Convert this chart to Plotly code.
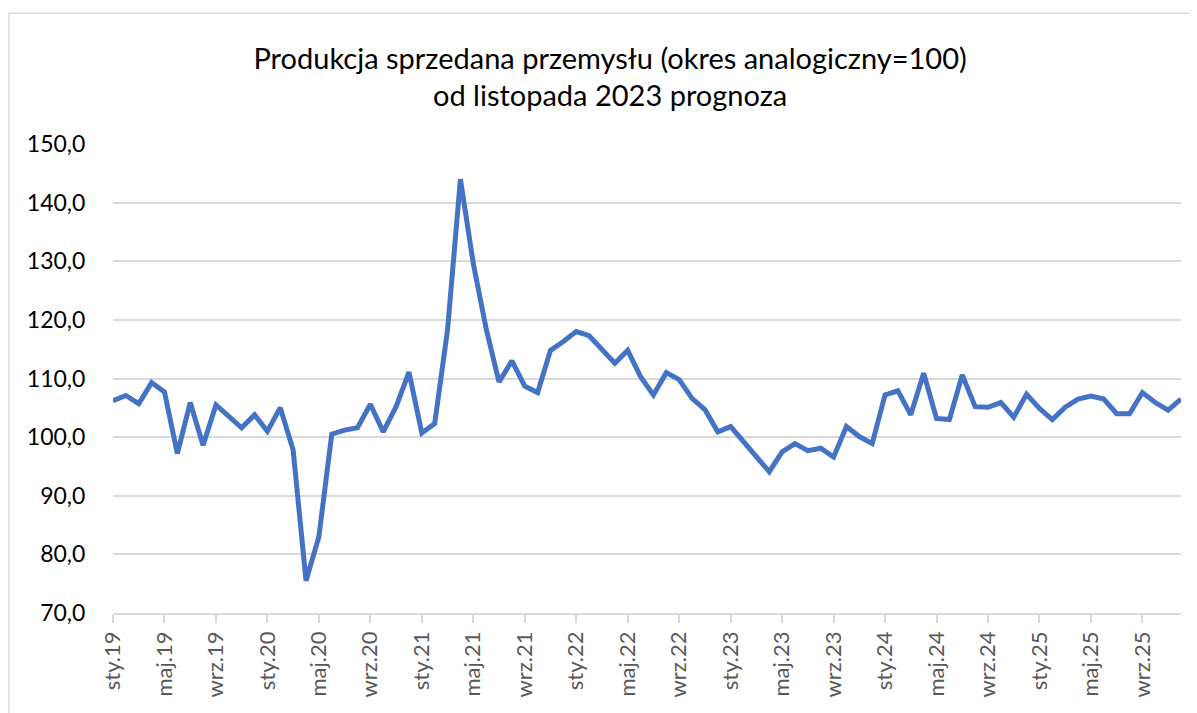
import plotly.graph_objects as go

month_abbr = ["sty", "lut", "mar", "kwi", "maj", "cze", "lip", "sie", "wrz", "paź", "lis", "gru"]
years = ["19", "20", "21", "22", "23", "24", "25"]
categories = [f"{m}.{y}" for y in years for m in month_abbr]

values = [
    106.2, 107.1, 105.7, 109.3, 107.7, 97.2, 105.9, 98.6, 105.5, 103.6, 101.6, 103.8,
    101.0, 105.0, 97.8, 75.5, 83.0, 100.5, 101.2, 101.6, 105.6, 100.9, 105.2, 111.1,
    100.7, 102.3, 118.3, 144.0, 129.6, 118.5, 109.4, 113.0, 108.7, 107.6, 114.8, 116.3,
    118.0, 117.3, 115.1, 112.6, 114.8, 110.3, 107.2, 111.0, 109.8, 106.6, 104.7, 100.9,
    101.8, 99.2, 96.9, 94.1, 97.5, 98.9, 97.7, 98.1, 96.6, 101.8, 100.1, 98.9,
    107.2, 107.9, 103.8, 110.9, 103.2, 103.0, 110.6, 105.2, 105.1, 105.9, 103.4, 107.3,
    104.9, 103.0, 105.1, 106.5, 107.0, 106.5, 104.0, 104.0, 107.6, 105.9, 104.6, 106.5,
]

y_ticks = [70, 80, 90, 100, 110, 120, 130, 140, 150]
y_tick_labels = ["70,0", "80,0", "90,0", "100,0", "110,0", "120,0", "130,0", "140,0", "150,0"]

x_idx = list(range(len(categories)))
tick_idx = x_idx[::4]
tick_text = [categories[i] for i in tick_idx]

fig = go.Figure()
fig.add_trace(go.Scatter(
    x=x_idx, y=values, mode="lines",
    line=dict(color="#4472C4", width=5),
    hoverinfo="skip",
))

fig.update_layout(
    width=1197, height=713,
    margin=dict(l=105, r=24, t=136, b=108),
    paper_bgcolor="white", plot_bgcolor="white",
    showlegend=False,
    font=dict(family="Lato, Noto Sans, sans-serif", color="#000000"),
    title=dict(
        text="Produkcja sprzedana przemysłu (okres analogiczny=100)<br>od listopada 2023 prognoza",
        x=0.503, xanchor="center", xref="container",
        y=0.915, yanchor="middle", yref="container",
        font=dict(size=29, family="Lato, Noto Sans, sans-serif", color="#000000"),
    ),
    xaxis=dict(
        range=[0, len(categories) - 1],
        tickmode="array", tickvals=tick_idx, ticktext=tick_text,
        tickangle=-90,
        ticks="outside", ticklen=8, tickcolor="#d9d9d9", tickwidth=1.5,
        showline=True, linecolor="#d9d9d9", linewidth=1.5,
        showgrid=False, zeroline=False,
        tickfont=dict(size=22, color="#595959", family="Lato, Noto Sans, sans-serif"),
        fixedrange=True,
    ),
    yaxis=dict(
        range=[70, 150],
        tickmode="array", tickvals=y_ticks, ticktext=y_tick_labels,
        showgrid=True, gridcolor="#d9d9d9", gridwidth=1.5,
        showline=False, zeroline=False, ticks="outside", ticklen=22, tickcolor="rgba(0,0,0,0)",
        tickfont=dict(size=23, color="#000000"),
        fixedrange=True,
    ),
    shapes=[dict(
        type="rect", xref="paper", yref="paper",
        x0=-0.0974, x1=1.03, y0=-0.25, y1=1.279,
        line=dict(color="#d9d9d9", width=1.5), fillcolor="rgba(0,0,0,0)", layer="below",
    )],
)

fig.write_html("out.html")
